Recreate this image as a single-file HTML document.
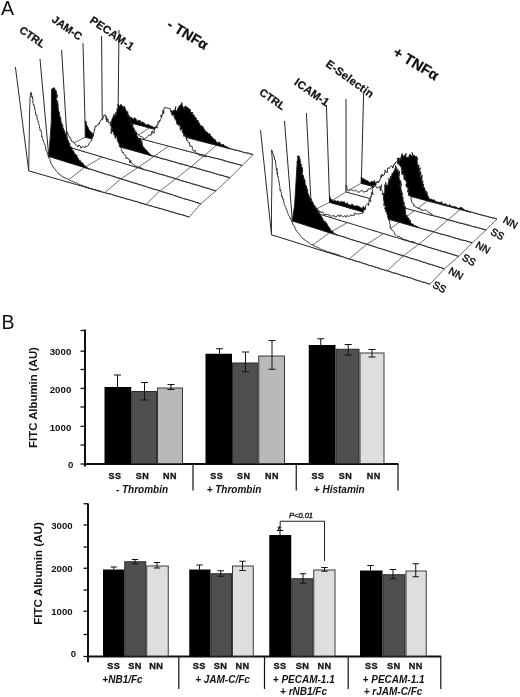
<!DOCTYPE html>
<html><head><meta charset="utf-8"><title>Figure</title>
<style>
html,body{margin:0;padding:0;background:#fff;}
body{width:520px;height:697px;overflow:hidden;}
svg{display:block;filter:blur(0.35px);}
svg text{font-family:"Liberation Sans",Arial,sans-serif;}
</style></head><body>
<svg width="520" height="697" viewBox="0 0 520 697">
<rect x="0" y="0" width="520" height="697" fill="#fff"/>
<text x="1.0" y="15.3" font-size="19.5" font-weight="normal" font-style="normal" text-anchor="start" fill="#111" >A</text>
<text x="1.6" y="329" font-size="19.5" font-weight="normal" font-style="normal" text-anchor="start" fill="#111" >B</text>
<line x1="85" y1="329.5" x2="85" y2="466.5" stroke="#111" stroke-width="2" />
<line x1="80.5" y1="330.5" x2="85" y2="330.5" stroke="#111" stroke-width="1.3" />
<line x1="80.5" y1="351.2" x2="85" y2="351.2" stroke="#111" stroke-width="1.3" />
<line x1="80.5" y1="369.5" x2="85" y2="369.5" stroke="#111" stroke-width="1.3" />
<line x1="80.5" y1="388.4" x2="85" y2="388.4" stroke="#111" stroke-width="1.3" />
<line x1="80.5" y1="407" x2="85" y2="407" stroke="#111" stroke-width="1.3" />
<line x1="80.5" y1="426.3" x2="85" y2="426.3" stroke="#111" stroke-width="1.3" />
<line x1="80.5" y1="445" x2="85" y2="445" stroke="#111" stroke-width="1.3" />
<line x1="80.5" y1="464" x2="85" y2="464" stroke="#111" stroke-width="1.3" />
<text x="71.3" y="355.35" font-size="9.7" font-weight="bold" font-style="normal" text-anchor="end" fill="#111" >3000</text>
<text x="71.3" y="392.6" font-size="9.7" font-weight="bold" font-style="normal" text-anchor="end" fill="#111" >2000</text>
<text x="71.3" y="430.6" font-size="9.7" font-weight="bold" font-style="normal" text-anchor="end" fill="#111" >1000</text>
<text x="73.3" y="468.40000000000003" font-size="9.7" font-weight="bold" font-style="normal" text-anchor="end" fill="#111" >0</text>
<text x="37.2" y="397.5" font-size="11.4" font-weight="bold" font-style="normal" text-anchor="middle" fill="#111" transform="rotate(-90 37.2 397.5)" >FITC Albumin (AU)</text>
<line x1="85" y1="464" x2="398.5" y2="464" stroke="#111" stroke-width="2" />
<line x1="193" y1="464" x2="193" y2="490.5" stroke="#111" stroke-width="1.2" />
<line x1="296.25" y1="464" x2="296.25" y2="490.5" stroke="#111" stroke-width="1.2" />
<line x1="398" y1="464" x2="398" y2="490.5" stroke="#111" stroke-width="1.2" />
<rect x="104.50" y="387.00" width="26.70" height="77.00" fill="#000"/>
<rect x="131.70" y="391.50" width="24.80" height="72.00" fill="#4f4f4f" stroke="#2a2a2a" stroke-width="1"/>
<rect x="157.50" y="388.00" width="25.00" height="75.50" fill="#b9b9b9" stroke="#3a3a3a" stroke-width="1"/>
<line x1="117.5" y1="375" x2="117.5" y2="387" stroke="#111" stroke-width="1" />
<line x1="114.0" y1="375" x2="121.0" y2="375" stroke="#111" stroke-width="1" />
<line x1="144.5" y1="382.5" x2="144.5" y2="400" stroke="#111" stroke-width="1" />
<line x1="141.0" y1="382.5" x2="148.0" y2="382.5" stroke="#111" stroke-width="1" />
<line x1="141.0" y1="400" x2="148.0" y2="400" stroke="#111" stroke-width="1" />
<line x1="171" y1="384.5" x2="171" y2="389.5" stroke="#111" stroke-width="1" />
<line x1="167.5" y1="384.5" x2="174.5" y2="384.5" stroke="#111" stroke-width="1" />
<line x1="167.5" y1="389.5" x2="174.5" y2="389.5" stroke="#111" stroke-width="1" />
<rect x="205.50" y="353.75" width="26.50" height="110.25" fill="#000"/>
<rect x="232.50" y="363.00" width="25.25" height="100.50" fill="#4f4f4f" stroke="#2a2a2a" stroke-width="1"/>
<rect x="258.75" y="356.00" width="25.75" height="107.50" fill="#b9b9b9" stroke="#3a3a3a" stroke-width="1"/>
<line x1="219.5" y1="348.75" x2="219.5" y2="353.75" stroke="#111" stroke-width="1" />
<line x1="216.0" y1="348.75" x2="223.0" y2="348.75" stroke="#111" stroke-width="1" />
<line x1="245.5" y1="352" x2="245.5" y2="371.75" stroke="#111" stroke-width="1" />
<line x1="242.0" y1="352" x2="249.0" y2="352" stroke="#111" stroke-width="1" />
<line x1="242.0" y1="371.75" x2="249.0" y2="371.75" stroke="#111" stroke-width="1" />
<line x1="272" y1="340.5" x2="272" y2="369.25" stroke="#111" stroke-width="1" />
<line x1="268.5" y1="340.5" x2="275.5" y2="340.5" stroke="#111" stroke-width="1" />
<line x1="268.5" y1="369.25" x2="275.5" y2="369.25" stroke="#111" stroke-width="1" />
<rect x="308.75" y="345.00" width="26.75" height="119.00" fill="#000"/>
<rect x="336.00" y="349.25" width="23.00" height="114.25" fill="#4f4f4f" stroke="#2a2a2a" stroke-width="1"/>
<rect x="360.00" y="353.00" width="24.00" height="110.50" fill="#dedede" stroke="#3a3a3a" stroke-width="1"/>
<line x1="320.75" y1="338.75" x2="320.75" y2="345" stroke="#111" stroke-width="1" />
<line x1="317.25" y1="338.75" x2="324.25" y2="338.75" stroke="#111" stroke-width="1" />
<line x1="348.25" y1="344.5" x2="348.25" y2="355" stroke="#111" stroke-width="1" />
<line x1="344.75" y1="344.5" x2="351.75" y2="344.5" stroke="#111" stroke-width="1" />
<line x1="344.75" y1="355" x2="351.75" y2="355" stroke="#111" stroke-width="1" />
<line x1="372" y1="349.5" x2="372" y2="357" stroke="#111" stroke-width="1" />
<line x1="368.5" y1="349.5" x2="375.5" y2="349.5" stroke="#111" stroke-width="1" />
<line x1="368.5" y1="357" x2="375.5" y2="357" stroke="#111" stroke-width="1" />
<text x="115" y="479" font-size="9" font-weight="bold" font-style="normal" text-anchor="middle" fill="#111" letter-spacing="0.4" stroke="#111" stroke-width="0.3">SS</text>
<text x="142.5" y="479" font-size="9" font-weight="bold" font-style="normal" text-anchor="middle" fill="#111" letter-spacing="0.4" stroke="#111" stroke-width="0.3">SN</text>
<text x="170" y="479" font-size="9" font-weight="bold" font-style="normal" text-anchor="middle" fill="#111" letter-spacing="0.4" stroke="#111" stroke-width="0.3">NN</text>
<text x="216.75" y="479" font-size="9" font-weight="bold" font-style="normal" text-anchor="middle" fill="#111" letter-spacing="0.4" stroke="#111" stroke-width="0.3">SS</text>
<text x="243.75" y="479" font-size="9" font-weight="bold" font-style="normal" text-anchor="middle" fill="#111" letter-spacing="0.4" stroke="#111" stroke-width="0.3">SN</text>
<text x="272" y="479" font-size="9" font-weight="bold" font-style="normal" text-anchor="middle" fill="#111" letter-spacing="0.4" stroke="#111" stroke-width="0.3">NN</text>
<text x="318" y="479" font-size="9" font-weight="bold" font-style="normal" text-anchor="middle" fill="#111" letter-spacing="0.4" stroke="#111" stroke-width="0.3">SS</text>
<text x="345.5" y="479" font-size="9" font-weight="bold" font-style="normal" text-anchor="middle" fill="#111" letter-spacing="0.4" stroke="#111" stroke-width="0.3">SN</text>
<text x="373.75" y="479" font-size="9" font-weight="bold" font-style="normal" text-anchor="middle" fill="#111" letter-spacing="0.4" stroke="#111" stroke-width="0.3">NN</text>
<text x="142" y="492.5" font-size="10" font-weight="bold" font-style="italic" text-anchor="middle" fill="#111" >- Thrombin</text>
<text x="234" y="492.5" font-size="10" font-weight="bold" font-style="italic" text-anchor="middle" fill="#111" >+ Thrombin</text>
<text x="339.3" y="492.5" font-size="10" font-weight="bold" font-style="italic" text-anchor="middle" fill="#111" >+ Histamin</text>
<line x1="88" y1="503.5" x2="88" y2="662.3" stroke="#111" stroke-width="2" />
<line x1="83.5" y1="503.75" x2="88" y2="503.75" stroke="#111" stroke-width="1.3" />
<line x1="83.5" y1="525" x2="88" y2="525" stroke="#111" stroke-width="1.3" />
<line x1="83.5" y1="547" x2="88" y2="547" stroke="#111" stroke-width="1.3" />
<line x1="83.5" y1="568.25" x2="88" y2="568.25" stroke="#111" stroke-width="1.3" />
<line x1="83.5" y1="590" x2="88" y2="590" stroke="#111" stroke-width="1.3" />
<line x1="83.5" y1="611.25" x2="88" y2="611.25" stroke="#111" stroke-width="1.3" />
<line x1="83.5" y1="634.5" x2="88" y2="634.5" stroke="#111" stroke-width="1.3" />
<line x1="83.5" y1="656.5" x2="88" y2="656.5" stroke="#111" stroke-width="1.3" />
<text x="72.6" y="529.0" font-size="9.6" font-weight="bold" font-style="normal" text-anchor="end" fill="#111" >3000</text>
<text x="72.6" y="572.25" font-size="9.6" font-weight="bold" font-style="normal" text-anchor="end" fill="#111" >2000</text>
<text x="72.6" y="615.25" font-size="9.6" font-weight="bold" font-style="normal" text-anchor="end" fill="#111" >1000</text>
<text x="76.1" y="657.3" font-size="9.6" font-weight="bold" font-style="normal" text-anchor="end" fill="#111" >0</text>
<text x="41.7" y="573.5" font-size="11.6" font-weight="bold" font-style="normal" text-anchor="middle" fill="#111" transform="rotate(-90 41.7 573.5)" >FITC Albumin (AU)</text>
<line x1="88" y1="656.5" x2="441.2" y2="656.5" stroke="#111" stroke-width="2" />
<line x1="178.8" y1="656.5" x2="178.8" y2="689" stroke="#111" stroke-width="1.2" />
<line x1="264.5" y1="656.5" x2="264.5" y2="689" stroke="#111" stroke-width="1.2" />
<line x1="348.2" y1="656.5" x2="348.2" y2="689" stroke="#111" stroke-width="1.2" />
<line x1="440.8" y1="656.5" x2="440.8" y2="689" stroke="#111" stroke-width="1.2" />
<rect x="103.00" y="569.50" width="21.25" height="87.00" fill="#000"/>
<rect x="124.75" y="561.75" width="21.00" height="94.25" fill="#4f4f4f" stroke="#2a2a2a" stroke-width="1"/>
<rect x="146.75" y="566.00" width="21.50" height="90.00" fill="#dedede" stroke="#3a3a3a" stroke-width="1"/>
<line x1="113.75" y1="567" x2="113.75" y2="569.5" stroke="#111" stroke-width="1" />
<line x1="110.55" y1="567" x2="116.95" y2="567" stroke="#111" stroke-width="1" />
<line x1="135" y1="559.5" x2="135" y2="563.75" stroke="#111" stroke-width="1" />
<line x1="131.8" y1="559.5" x2="138.2" y2="559.5" stroke="#111" stroke-width="1" />
<line x1="131.8" y1="563.75" x2="138.2" y2="563.75" stroke="#111" stroke-width="1" />
<line x1="157" y1="562.5" x2="157" y2="568" stroke="#111" stroke-width="1" />
<line x1="153.8" y1="562.5" x2="160.2" y2="562.5" stroke="#111" stroke-width="1" />
<line x1="153.8" y1="568" x2="160.2" y2="568" stroke="#111" stroke-width="1" />
<rect x="189.25" y="569.50" width="21.25" height="87.00" fill="#000"/>
<rect x="211.00" y="573.75" width="20.50" height="82.25" fill="#4f4f4f" stroke="#2a2a2a" stroke-width="1"/>
<rect x="232.50" y="566.00" width="20.75" height="90.00" fill="#dedede" stroke="#3a3a3a" stroke-width="1"/>
<line x1="199.5" y1="565" x2="199.5" y2="569.5" stroke="#111" stroke-width="1" />
<line x1="196.3" y1="565" x2="202.7" y2="565" stroke="#111" stroke-width="1" />
<line x1="220.75" y1="570.75" x2="220.75" y2="576.25" stroke="#111" stroke-width="1" />
<line x1="217.55" y1="570.75" x2="223.95" y2="570.75" stroke="#111" stroke-width="1" />
<line x1="217.55" y1="576.25" x2="223.95" y2="576.25" stroke="#111" stroke-width="1" />
<line x1="242.5" y1="561.25" x2="242.5" y2="570.5" stroke="#111" stroke-width="1" />
<line x1="239.3" y1="561.25" x2="245.7" y2="561.25" stroke="#111" stroke-width="1" />
<line x1="239.3" y1="570.5" x2="245.7" y2="570.5" stroke="#111" stroke-width="1" />
<rect x="269.25" y="535.00" width="22.00" height="121.50" fill="#000"/>
<rect x="291.75" y="578.75" width="21.00" height="77.25" fill="#4f4f4f" stroke="#2a2a2a" stroke-width="1"/>
<rect x="313.75" y="570.00" width="21.25" height="86.00" fill="#dedede" stroke="#3a3a3a" stroke-width="1"/>
<line x1="280" y1="530.5" x2="280" y2="535" stroke="#111" stroke-width="1" />
<line x1="276.8" y1="530.5" x2="283.2" y2="530.5" stroke="#111" stroke-width="1" />
<line x1="303" y1="573.75" x2="303" y2="583.25" stroke="#111" stroke-width="1" />
<line x1="299.8" y1="573.75" x2="306.2" y2="573.75" stroke="#111" stroke-width="1" />
<line x1="299.8" y1="583.25" x2="306.2" y2="583.25" stroke="#111" stroke-width="1" />
<line x1="324.5" y1="567.5" x2="324.5" y2="571.25" stroke="#111" stroke-width="1" />
<line x1="321.3" y1="567.5" x2="327.7" y2="567.5" stroke="#111" stroke-width="1" />
<line x1="321.3" y1="571.25" x2="327.7" y2="571.25" stroke="#111" stroke-width="1" />
<rect x="360.00" y="570.50" width="22.50" height="86.00" fill="#000"/>
<rect x="383.00" y="574.75" width="22.00" height="81.25" fill="#4f4f4f" stroke="#2a2a2a" stroke-width="1"/>
<rect x="406.00" y="571.00" width="20.25" height="85.00" fill="#dedede" stroke="#3a3a3a" stroke-width="1"/>
<line x1="370.5" y1="565.5" x2="370.5" y2="570.5" stroke="#111" stroke-width="1" />
<line x1="367.3" y1="565.5" x2="373.7" y2="565.5" stroke="#111" stroke-width="1" />
<line x1="393" y1="569.5" x2="393" y2="578.75" stroke="#111" stroke-width="1" />
<line x1="389.8" y1="569.5" x2="396.2" y2="569.5" stroke="#111" stroke-width="1" />
<line x1="389.8" y1="578.75" x2="396.2" y2="578.75" stroke="#111" stroke-width="1" />
<line x1="415.75" y1="563.75" x2="415.75" y2="576.75" stroke="#111" stroke-width="1" />
<line x1="412.55" y1="563.75" x2="418.95" y2="563.75" stroke="#111" stroke-width="1" />
<line x1="412.55" y1="576.75" x2="418.95" y2="576.75" stroke="#111" stroke-width="1" />
<text x="113.75" y="669" font-size="9.2" font-weight="bold" font-style="normal" text-anchor="middle" fill="#111" letter-spacing="0.4" stroke="#111" stroke-width="0.3">SS</text>
<text x="135" y="669" font-size="9.2" font-weight="bold" font-style="normal" text-anchor="middle" fill="#111" letter-spacing="0.4" stroke="#111" stroke-width="0.3">SN</text>
<text x="156.25" y="669" font-size="9.2" font-weight="bold" font-style="normal" text-anchor="middle" fill="#111" letter-spacing="0.4" stroke="#111" stroke-width="0.3">NN</text>
<text x="199.25" y="669" font-size="9.2" font-weight="bold" font-style="normal" text-anchor="middle" fill="#111" letter-spacing="0.4" stroke="#111" stroke-width="0.3">SS</text>
<text x="220.5" y="669" font-size="9.2" font-weight="bold" font-style="normal" text-anchor="middle" fill="#111" letter-spacing="0.4" stroke="#111" stroke-width="0.3">SN</text>
<text x="242.5" y="669" font-size="9.2" font-weight="bold" font-style="normal" text-anchor="middle" fill="#111" letter-spacing="0.4" stroke="#111" stroke-width="0.3">NN</text>
<text x="280" y="669" font-size="9.2" font-weight="bold" font-style="normal" text-anchor="middle" fill="#111" letter-spacing="0.4" stroke="#111" stroke-width="0.3">SS</text>
<text x="302.5" y="669" font-size="9.2" font-weight="bold" font-style="normal" text-anchor="middle" fill="#111" letter-spacing="0.4" stroke="#111" stroke-width="0.3">SN</text>
<text x="324.5" y="669" font-size="9.2" font-weight="bold" font-style="normal" text-anchor="middle" fill="#111" letter-spacing="0.4" stroke="#111" stroke-width="0.3">NN</text>
<text x="371.5" y="669" font-size="9.2" font-weight="bold" font-style="normal" text-anchor="middle" fill="#111" letter-spacing="0.4" stroke="#111" stroke-width="0.3">SS</text>
<text x="393.75" y="669" font-size="9.2" font-weight="bold" font-style="normal" text-anchor="middle" fill="#111" letter-spacing="0.4" stroke="#111" stroke-width="0.3">SN</text>
<text x="415.75" y="669" font-size="9.2" font-weight="bold" font-style="normal" text-anchor="middle" fill="#111" letter-spacing="0.4" stroke="#111" stroke-width="0.3">NN</text>
<text x="122.5" y="683" font-size="10" font-weight="bold" font-style="italic" text-anchor="middle" fill="#111" >+NB1/Fc</text>
<text x="222.5" y="683" font-size="10" font-weight="bold" font-style="italic" text-anchor="middle" fill="#111" >+ JAM-C/Fc</text>
<text x="303.8" y="683.3" font-size="10" font-weight="bold" font-style="italic" text-anchor="middle" fill="#111" >+ PECAM-1.1</text>
<text x="303.5" y="695" font-size="10" font-weight="bold" font-style="italic" text-anchor="middle" fill="#111" >+ rNB1/Fc</text>
<text x="393.6" y="683.3" font-size="10" font-weight="bold" font-style="italic" text-anchor="middle" fill="#111" >+ PECAM-1.1</text>
<text x="393" y="695" font-size="10" font-weight="bold" font-style="italic" text-anchor="middle" fill="#111" >+ rJAM-C/Fc</text>
<polyline points="280.2,527 280.2,521.25 324.5,521.25 324.5,561" fill="none" stroke="#222" stroke-width="1"/>
<text x="301" y="518" font-size="7.5" font-weight="normal" font-style="italic" text-anchor="middle" fill="#111" stroke="#111" stroke-width="0.35">P&lt;0.01</text>
<text x="279.3" y="533.8" font-size="11" font-weight="bold" font-style="normal" text-anchor="middle" fill="#111" >*</text>
<polyline points="28.7,170.6 32.6,171.8 36.6,172.8 40.4,174.0 44.3,175.1 48.3,176.4 52.1,177.3 56.0,178.7 60.1,179.4 64.0,181.1 67.9,182.0 71.7,182.8 75.7,183.9 79.5,185.2 83.4,186.4 87.4,187.8 91.3,188.8 95.2,189.9 99.2,190.8 103.2,192.4 107.1,193.4 110.9,194.2 114.8,195.2 118.8,196.6 122.7,197.7 126.7,199.1 130.4,199.9 134.5,201.1 138.4,202.2 142.1,203.5 146.2,204.4 150.0,205.6 154.1,207.0 157.8,207.8 161.7,208.8 165.8,210.0 169.6,211.3 173.5,212.6 177.4,213.7 181.3,214.7 185.2,215.7 189.2,217.0" fill="none" stroke="#555" stroke-width="0.85" stroke-linejoin="round"/>
<polyline points="48.8,156.2 52.8,157.6 56.6,158.9 60.4,159.8 64.5,161.2 68.2,162.6 72.1,163.4 76.1,164.6 79.9,165.7 83.8,167.2 87.7,168.5 91.6,169.6 95.7,170.8 99.5,172.3 103.3,173.1 107.3,174.7 111.1,175.5 115.1,177.2 118.9,178.4 122.9,179.5 126.7,180.4 130.5,182.1 134.5,183.2 138.4,184.5 142.4,185.4 146.2,186.8 150.0,187.8 154.0,189.4 158.0,190.2 161.9,191.4 165.6,192.7 169.6,193.8 173.4,195.2 177.4,196.3 181.3,197.9 185.3,199.0 189.1,200.2 192.9,201.1 196.8,202.8 200.8,203.8" fill="none" stroke="#555" stroke-width="0.85" stroke-linejoin="round"/>
<polyline points="67.5,146.5 71.5,147.9 75.2,148.9 79.2,150.1 83.1,151.5 87.0,152.4 91.0,153.7 94.9,154.8 98.8,156.1 102.6,157.1 106.7,158.4 110.5,159.5 114.5,160.5 118.3,161.6 122.2,162.9 126.0,164.1 130.1,165.4 134.0,166.3 137.9,167.5 141.7,168.9 145.6,170.0 149.5,171.0 153.5,172.0 157.4,173.3 161.3,174.7 165.1,175.4 169.1,176.9 173.0,177.8 177.0,179.2 180.8,180.5 184.7,181.6 188.6,182.6 192.6,184.1 196.5,184.9 200.4,186.0 204.2,187.3 208.3,188.7 212.1,189.9 216.0,190.8" fill="none" stroke="#555" stroke-width="0.85" stroke-linejoin="round"/>
<polyline points="85.4,137.0 89.3,137.9 93.2,139.1 97.1,140.2 101.1,141.4 104.9,142.7 108.9,143.6 112.7,144.4 116.7,145.5 120.6,146.9 124.4,148.2 128.3,148.9 132.3,149.9 136.3,151.1 140.0,152.1 144.0,153.5 148.0,154.7 151.9,156.0 155.8,156.6 159.6,157.7 163.5,159.0 167.5,159.9 171.3,161.1 175.3,162.3 179.2,163.6 183.1,164.7 187.1,165.4 191.0,166.8 194.7,167.8 198.8,169.1 202.6,170.0 206.6,171.3 210.6,172.2 214.4,173.1 218.3,174.6 222.2,175.6 226.0,176.8 230.0,177.7" fill="none" stroke="#555" stroke-width="0.85" stroke-linejoin="round"/>
<polyline points="102.3,128.5 106.3,129.8 110.1,130.7 113.9,131.8 117.9,132.5 121.7,133.6 125.6,134.8 129.5,135.4 133.5,136.4 137.4,137.5 141.2,138.9 145.0,139.6 149.0,140.9 152.9,141.9 156.8,142.8 160.7,143.6 164.5,144.9 168.4,146.1 172.3,147.0 176.3,148.0 180.0,148.9 184.0,150.3 187.8,151.3 191.8,152.1 195.6,152.9 199.5,154.1 203.4,154.9 207.4,156.2 211.2,157.4 215.1,158.2 219.0,159.0 222.9,160.2 226.8,161.6 230.6,162.3 234.4,163.3 238.5,164.6 242.3,165.4" fill="none" stroke="#555" stroke-width="0.85" stroke-linejoin="round"/>
<polyline points="118.0,119.5 122.0,120.4 125.9,121.6 130.0,122.4 133.9,123.3 137.8,124.5 141.9,125.6 145.8,126.8 149.7,127.9 153.7,128.8 157.7,129.6 161.7,130.8 165.6,131.8 169.6,132.7 173.5,134.0 177.6,135.0 181.6,136.1 185.6,136.9 189.5,138.3 193.5,139.0 197.4,140.4 201.3,141.5 205.4,142.0 209.3,143.4 213.2,144.0 217.3,145.3 221.3,146.1 225.2,147.5 229.1,148.2 233.2,149.7 237.2,150.2 241.1,151.7 245.1,152.6 249.0,153.3 253.0,154.6" fill="none" stroke="#555" stroke-width="0.85" stroke-linejoin="round"/>
<polyline points="28.7,170.6 48.8,156.2 67.5,146.5 85.4,137.0 102.3,128.5 118.0,119.5" fill="none" stroke="#555" stroke-width="0.85" stroke-linejoin="round"/>
<polyline points="189.2,217.0 200.8,203.8 216.0,190.8 230.0,177.7 242.3,165.4 253.0,154.6" fill="none" stroke="#555" stroke-width="0.85" stroke-linejoin="round"/>
<polyline points="66.4,181.5 84.5,167.4 102.4,156.9 119.4,146.6 135.2,137.2 149.7,127.7" fill="none" stroke="#555" stroke-width="0.85" stroke-linejoin="round"/>
<polyline points="104.9,192.6 121.0,178.8 138.0,167.5 154.1,156.3 168.8,146.0 182.1,136.2" fill="none" stroke="#555" stroke-width="0.85" stroke-linejoin="round"/>
<polyline points="145.9,204.5 159.8,190.9 175.9,178.8 191.0,166.7 204.5,155.4 216.6,145.1" fill="none" stroke="#555" stroke-width="0.85" stroke-linejoin="round"/>
<polyline points="119.0,30.0 118.0,119.5" fill="none" stroke="#1c1c1c" stroke-width="0.95" stroke-linejoin="round"/>
<polygon points="118.0,119.5 118.0,104.0 119.1,105.8 119.7,106.7 119.9,106.9 120.6,108.2 122.4,111.2 122.1,107.6 123.4,113.6 124.7,113.0 125.3,112.4 126.2,114.7 127.5,114.3 128.7,115.1 129.5,116.3 130.2,117.4 131.4,117.2 131.9,118.1 133.5,119.3 134.6,117.6 135.2,118.4 136.0,118.9 136.8,121.5 138.4,120.3 139.3,121.0 139.9,120.2 141.2,123.2 142.3,121.6 143.3,123.1 143.8,122.8 144.9,123.6 146.3,125.1 147.3,124.4 148.9,124.8 149.9,125.7 151.0,126.0 152.5,126.4 153.5,127.3 155.0,127.6 155.7,126.5 157.3,126.4 158.4,125.7 159.4,126.3 160.1,125.3 161.3,124.2 162.0,125.5 163.3,123.8 163.7,121.5 164.2,121.0 165.0,119.5 164.8,121.6 165.9,118.9 166.7,117.9 166.6,117.7 168.0,116.8 168.9,114.2 169.7,113.1 170.5,113.9 171.0,111.9 171.5,113.7 172.9,110.6 175.0,110.1 175.8,106.5 175.4,110.3 176.4,111.3 178.9,106.8 180.1,105.1 179.9,107.0 181.8,102.5 182.3,105.6 184.3,109.6 184.3,106.7 185.4,106.2 186.2,106.7 187.9,107.6 189.3,109.3 190.2,109.3 190.5,111.9 192.2,113.0 192.8,112.1 192.0,114.7 194.0,114.7 193.8,117.2 194.4,115.9 195.6,117.9 196.4,118.0 196.4,120.5 198.3,120.5 197.5,124.5 198.3,121.8 199.9,123.9 199.9,126.2 200.6,125.4 202.3,126.6 202.5,125.9 203.3,127.7 204.3,129.3 205.1,130.8 205.7,131.0 206.2,131.5 206.7,132.2 207.3,132.2 208.6,134.1 209.8,133.7 210.3,134.8 211.3,137.2 211.1,136.1 212.8,138.0 213.3,138.7 214.0,139.3 215.2,139.5 215.3,139.9 216.2,141.5 217.3,143.0 218.3,142.3 219.2,142.0 220.4,143.0 221.1,145.0 222.7,144.5 223.6,144.4 224.7,146.4 225.6,146.1 227.0,146.7 228.0,147.9 229.2,148.1 230.0,148.5 230.0,148.8 118.0,119.7" fill="#000" stroke="#1c1c1c" stroke-width="0.9" stroke-linejoin="round"/>
<polyline points="230.0,148.6 231.5,149.0 233.0,149.2 234.6,150.0 236.1,150.4 237.7,150.4 239.3,151.2 240.7,151.1 242.3,151.8 243.8,152.5 245.4,152.8 246.8,153.0 248.5,153.2 249.8,153.9 251.6,154.0 253.0,154.6" fill="none" stroke="#1c1c1c" stroke-width="0.9" stroke-linejoin="round"/>
<polyline points="101.6,36.0 102.3,128.5" fill="none" stroke="#1c1c1c" stroke-width="0.95" stroke-linejoin="round"/>
<polygon points="102.3,128.5 102.4,121.0 103.2,122.6 104.5,124.1 105.1,124.8 106.5,124.3 107.8,125.8 109.0,123.9 109.7,125.2 110.7,123.7 111.7,125.0 112.8,125.9 113.7,124.7 114.9,126.2 115.9,123.9 116.5,126.6 117.7,125.0 118.4,125.6 119.1,124.3 120.4,125.1 121.1,122.1 122.3,125.4 124.2,126.1 124.2,125.8 125.9,125.2 126.3,124.9 128.0,124.0 128.7,122.5 130.0,123.2 131.3,125.3 133.0,126.3 132.6,126.0 133.0,127.2 133.4,129.3 134.3,131.2 134.6,131.5 136.1,131.4 136.7,134.0 138.0,133.9 138.1,134.7 139.9,136.0 140.5,136.8 141.4,136.4 142.5,137.1 143.9,139.4 145.9,138.1 147.3,137.1 147.7,136.5 148.8,135.0 150.6,135.1 151.1,135.3 151.6,131.9 152.8,130.7 152.8,133.3 154.5,132.8 154.2,131.6 154.9,127.7 155.7,128.3 156.2,126.8 157.3,127.9 156.9,124.8 158.4,124.6 157.6,121.9 158.8,122.6 159.3,120.3 159.4,121.6 159.8,121.5 160.6,119.3 161.4,117.9 160.7,114.9 161.7,117.2 163.1,110.2 163.3,113.9 164.0,113.4 163.6,110.8 164.3,107.6 167.8,108.0 168.6,109.1 169.5,108.2 170.3,108.6 171.0,112.4 171.4,110.4 171.9,115.2 173.8,114.6 173.6,114.4 174.6,116.7 173.7,116.5 175.3,119.3 175.9,120.3 176.6,121.4 176.7,123.1 176.5,123.6 176.9,124.2 178.9,124.2 178.6,125.9 179.7,124.5 180.3,127.4 180.2,127.6 180.2,130.2 182.3,128.7 182.5,132.5 181.9,131.4 182.9,131.8 183.2,133.2 184.1,136.6 185.3,134.0 185.6,136.8 186.5,138.9 186.5,140.2 186.5,138.7 187.9,141.5 188.6,142.7 189.4,142.4 189.7,144.1 189.8,146.4 190.8,145.7 191.6,146.3 191.9,146.1 192.7,149.6 193.0,150.5 194.4,151.3 194.9,150.1 195.6,151.7 196.7,154.1 197.7,153.1 198.8,154.9 200.3,155.5 201.6,155.8 202.4,156.4 203.3,156.2 204.4,156.5 206.0,157.0 206.0,156.0 102.3,128.7" fill="#fff" stroke="#1c1c1c" stroke-width="0.9" stroke-linejoin="round"/>
<polyline points="206.0,155.8 207.6,156.5 208.9,156.5 210.4,157.1 211.8,157.4 213.3,157.5 214.6,158.1 216.1,158.4 217.6,158.7 219.1,159.1 220.5,159.6 222.0,159.8 223.5,160.2 225.0,160.9 226.3,161.1 227.8,161.7 229.3,162.1 230.7,162.6 232.2,162.9 233.6,163.1 235.1,163.7 236.5,163.9 237.9,164.5 239.4,164.4 240.9,165.3 242.3,165.4" fill="none" stroke="#1c1c1c" stroke-width="0.9" stroke-linejoin="round"/>
<polyline points="83.0,43.0 85.4,137.0" fill="none" stroke="#1c1c1c" stroke-width="0.95" stroke-linejoin="round"/>
<polygon points="85.4,137.0 85.4,120.8 86.4,122.4 86.2,122.1 86.4,124.6 87.3,125.9 87.2,126.1 88.5,128.3 88.5,128.6 89.1,130.2 90.3,131.2 90.8,132.5 90.9,132.2 92.1,132.7 92.6,135.3 93.7,137.1 93.8,137.5 95.0,137.8 95.8,137.5 96.8,138.0 98.5,138.2 99.5,138.9 100.6,138.2 101.3,139.3 102.7,140.2 104.0,138.4 105.0,139.4 105.6,134.9 107.1,134.3 106.8,136.4 107.7,133.6 107.6,131.0 108.1,134.0 109.1,127.1 108.5,130.0 109.0,130.6 110.7,126.8 111.0,124.8 111.1,124.8 111.9,123.2 111.0,122.4 111.5,122.2 111.6,120.7 112.1,119.0 112.8,117.7 113.7,115.7 113.2,118.9 113.8,114.6 114.3,117.2 115.5,112.6 115.6,117.1 116.3,114.5 117.0,110.2 117.0,109.4 117.3,108.2 118.4,110.9 119.1,106.7 121.0,104.3 123.3,107.7 122.3,111.2 124.2,105.9 126.0,110.8 125.6,109.8 126.3,112.0 127.1,111.3 126.9,116.1 127.8,111.6 127.9,115.9 128.9,118.1 128.0,117.8 129.1,118.1 130.2,119.3 129.6,121.8 130.6,119.2 131.0,123.5 130.6,126.1 132.1,122.9 133.1,124.5 132.0,127.3 133.3,128.6 133.4,127.2 134.8,130.3 134.8,133.4 135.2,132.8 135.0,132.6 135.8,132.2 136.8,135.3 137.1,135.3 136.9,135.7 138.5,138.6 138.0,138.2 139.3,139.5 138.8,140.6 139.9,138.5 141.2,140.7 140.4,142.8 142.2,141.2 141.6,144.2 142.1,143.2 142.9,146.4 143.7,147.2 144.1,147.4 144.5,148.4 146.3,149.9 146.2,150.8 146.9,150.4 147.8,151.9 149.0,153.1 149.7,153.7 151.2,155.3 152.0,155.3 152.0,155.9 85.4,137.2" fill="#000" stroke="#1c1c1c" stroke-width="0.9" stroke-linejoin="round"/>
<polyline points="152.0,155.7 153.3,156.1 154.9,156.3 156.3,157.1 157.9,157.4 159.3,157.8 160.6,158.4 162.1,158.8 163.5,158.9 164.9,159.4 166.4,159.6 167.8,160.2 169.3,160.6 170.9,161.1 172.3,161.3 173.6,161.6 175.2,162.2 176.5,162.4 177.9,162.9 179.4,163.7 180.9,163.7 182.3,164.1 183.9,164.6 185.3,165.2 186.8,165.2 188.1,165.8 189.5,166.5 191.0,166.9 192.4,166.9 193.9,167.4 195.2,167.7 196.8,168.1 198.2,168.7 199.7,168.9 201.2,169.4 202.6,170.1 203.9,170.2 205.4,170.9 206.9,171.1 208.4,171.4 209.7,171.9 211.2,172.1 212.6,172.9 214.1,173.4 215.7,173.5 217.0,174.3 218.4,174.6 219.9,175.1 221.4,175.1 222.8,175.4 224.2,176.0 225.6,176.4 227.1,176.9 228.5,177.1 230.0,177.7" fill="none" stroke="#1c1c1c" stroke-width="0.9" stroke-linejoin="round"/>
<polyline points="61.6,50.0 67.5,146.5" fill="none" stroke="#1c1c1c" stroke-width="0.95" stroke-linejoin="round"/>
<polygon points="67.5,146.5 66.8,131.5 66.8,131.3 68.0,134.1 68.1,134.3 68.7,135.7 69.6,137.0 69.9,138.3 70.4,138.1 71.1,139.1 71.4,141.3 72.7,141.7 73.3,141.4 74.0,142.7 75.5,144.7 76.1,144.8 76.6,145.3 77.9,147.0 78.8,145.0 80.0,145.7 81.1,148.3 82.1,146.7 82.8,146.6 84.4,147.4 85.5,147.3 85.7,145.8 86.8,146.6 87.7,146.1 88.3,145.3 89.0,143.7 89.3,142.6 90.6,141.4 91.0,140.5 91.6,140.7 92.0,137.7 92.6,137.7 92.1,138.3 93.2,135.9 93.3,134.2 93.7,135.8 93.2,135.2 94.3,131.2 94.3,129.0 94.5,130.0 94.8,128.9 95.2,126.1 96.2,126.6 95.9,127.0 96.3,125.8 97.9,124.6 98.5,124.8 98.5,123.8 99.7,123.5 99.0,123.4 101.4,119.3 102.0,120.2 103.9,116.8 103.8,115.1 105.7,115.0 106.3,120.1 106.6,116.7 107.0,118.5 106.7,122.0 108.0,119.1 108.2,122.3 108.4,122.9 110.9,121.8 109.8,124.2 111.3,126.6 111.3,126.8 111.1,133.7 112.9,128.6 112.6,131.9 113.9,133.0 113.7,134.6 113.6,134.7 114.6,134.1 114.9,136.2 115.2,138.4 115.8,135.9 117.3,137.8 116.9,139.1 118.1,141.2 117.6,141.3 119.4,144.2 118.9,145.4 119.5,145.3 119.7,147.0 121.1,147.3 121.1,148.6 121.7,149.9 122.3,152.5 123.8,152.6 123.6,153.4 124.5,154.8 125.7,155.4 125.7,156.6 126.2,158.7 126.4,158.2 127.6,157.9 128.1,159.0 129.5,159.6 129.8,163.0 130.9,160.5 131.0,162.8 131.9,163.1 132.9,164.3 134.0,164.9 134.3,165.0 135.4,166.4 136.4,166.3 137.5,166.7 138.2,167.3 139.4,166.6 140.4,168.1 140.9,167.4 142.2,168.9 143.0,168.8 143.0,169.2 67.5,146.7" fill="#fff" stroke="#1c1c1c" stroke-width="0.9" stroke-linejoin="round"/>
<polyline points="143.0,169.0 144.4,169.7 145.8,169.9 147.3,170.3 148.8,170.9 150.4,171.1 151.8,171.5 153.2,172.3 154.6,172.3 156.1,173.1 157.5,173.5 159.1,173.9 160.5,174.0 161.9,174.6 163.4,174.8 164.9,175.5 166.3,176.0 167.9,176.2 169.4,176.8 170.8,177.1 172.3,177.7 173.8,178.0 175.1,178.7 176.5,178.9 178.1,179.7 179.5,179.7 180.9,180.6 182.3,180.9 183.9,181.3 185.3,181.7 186.9,182.3 188.3,182.5 189.7,182.7 191.3,183.5 192.6,183.9 194.1,184.2 195.5,184.8 197.0,185.1 198.4,185.6 199.9,186.1 201.4,186.7 202.8,186.9 204.4,187.5 205.7,187.9 207.3,188.1 208.8,188.4 210.3,189.1 211.6,189.7 213.1,190.2 214.6,190.5 216.0,190.8" fill="none" stroke="#1c1c1c" stroke-width="0.9" stroke-linejoin="round"/>
<polyline points="40.0,59.0 48.8,156.2" fill="none" stroke="#1c1c1c" stroke-width="0.95" stroke-linejoin="round"/>
<polygon points="48.8,156.2 50.0,140.0 51.3,121.5 51.5,90.0 51.7,89.0 52.7,88.8 53.4,87.8 54.5,87.9 55.5,91.2 55.5,90.8 56.2,90.7 56.6,94.0 56.3,94.4 57.0,94.9 57.0,98.1 57.1,94.3 56.3,97.1 56.2,98.7 56.8,100.5 56.6,102.7 56.8,100.5 57.6,101.5 58.2,105.9 57.4,108.7 58.1,108.1 57.7,109.0 58.5,107.5 58.3,109.7 58.4,111.1 59.1,111.5 59.4,112.5 59.6,114.5 59.5,115.9 60.4,116.9 60.2,118.0 60.9,118.2 60.8,120.2 60.6,120.5 61.0,120.6 61.3,123.5 62.1,124.8 62.0,123.7 62.9,126.3 62.4,125.8 63.2,129.0 63.2,128.4 64.3,131.7 64.7,130.4 64.5,131.0 65.0,132.9 64.9,132.7 65.7,134.3 66.7,136.3 66.7,136.6 66.7,139.3 67.7,138.6 67.5,140.2 68.4,140.3 68.8,142.4 68.5,142.2 69.8,143.5 69.8,145.8 70.6,146.6 71.3,146.9 71.9,147.8 72.1,150.3 72.6,150.4 73.4,150.6 74.0,152.2 74.9,154.8 75.1,153.7 76.1,155.3 77.0,155.1 77.2,157.4 78.1,158.0 78.5,158.8 79.2,160.9 80.2,160.3 80.4,161.2 81.4,161.9 82.1,162.9 82.9,163.1 83.8,164.8 84.2,165.2 85.4,166.0 85.9,167.2 86.9,167.0 87.6,167.7 89.0,169.2 89.0,169.0 48.8,156.4" fill="#000" stroke="#1c1c1c" stroke-width="0.9" stroke-linejoin="round"/>
<polyline points="89.0,168.8 90.5,169.1 91.9,169.5 93.3,169.9 94.6,170.6 96.1,171.2 97.5,171.4 98.9,171.8 100.5,172.4 101.9,173.0 103.3,173.5 104.7,174.0 106.2,174.1 107.7,174.8 109.2,175.0 110.4,175.3 112.0,176.1 113.4,176.2 114.8,176.6 116.2,177.2 117.8,177.9 119.2,177.9 120.5,178.4 121.9,178.9 123.5,179.5 124.8,180.1 126.3,180.7 127.7,180.9 129.2,181.3 130.5,181.9 131.9,182.2 133.4,182.7 134.8,183.1 136.3,183.3 137.8,183.8 139.2,184.5 140.6,184.8 141.9,185.3 143.4,185.8 144.8,186.4 146.3,186.4 147.7,187.5 149.1,187.7 150.7,188.0 152.1,188.5 153.5,189.1 155.0,189.3 156.4,189.9 157.9,190.1 159.1,190.6 160.6,191.4 162.1,191.9 163.5,192.0 165.0,192.3 166.5,193.2 167.8,193.4 169.3,194.1 170.7,194.1 172.2,194.6 173.6,195.3 175.1,195.8 176.3,196.4 177.9,196.7 179.2,197.2 180.7,197.6 182.3,198.2 183.5,198.6 185.0,199.0 186.4,199.3 187.9,199.5 189.3,200.3 190.7,200.4 192.3,201.2 193.6,201.3 195.0,201.9 196.6,202.5 198.0,202.7 199.3,203.4 200.8,203.8" fill="none" stroke="#1c1c1c" stroke-width="0.9" stroke-linejoin="round"/>
<polyline points="15.4,67.0 28.7,170.6" fill="none" stroke="#1c1c1c" stroke-width="0.95" stroke-linejoin="round"/>
<polygon points="28.7,170.6 29.2,140.0 29.6,110.0 30.2,96.0 30.8,92.3 31.4,92.7 31.4,95.7 31.2,96.8 32.1,95.8 32.7,98.1 32.3,97.4 33.0,99.9 32.6,102.2 33.3,103.1 33.1,103.7 33.6,105.4 33.9,104.8 34.3,106.1 34.6,108.2 34.7,108.1 35.2,110.6 35.0,110.8 35.6,111.8 35.5,114.2 35.9,115.2 36.5,115.4 36.6,114.8 37.2,117.2 37.0,118.5 37.0,118.3 37.4,119.9 38.2,120.6 38.2,123.2 38.5,123.4 39.1,124.0 39.2,125.6 39.5,126.4 39.3,127.0 40.0,128.6 39.8,130.3 40.8,130.5 41.1,130.5 41.4,132.2 41.5,132.9 41.8,134.1 41.7,136.8 42.2,136.5 42.2,137.6 42.4,138.4 43.0,140.0 43.1,140.5 43.6,142.1 44.2,142.9 44.6,143.4 44.8,144.1 45.0,145.3 45.5,146.1 45.5,146.8 45.9,150.4 46.6,150.6 46.7,151.3 47.3,153.0 47.6,154.0 47.8,154.3 48.0,155.7 48.9,157.9 49.3,157.6 49.2,158.6 50.1,159.6 50.1,160.8 50.6,162.1 50.8,162.9 51.9,164.7 52.2,165.2 52.6,166.7 53.2,166.7 54.1,168.1 54.8,169.4 55.8,170.1 56.6,171.4 57.5,172.2 58.3,173.1 58.8,174.2 59.7,174.4 60.7,174.9 61.6,176.2 62.5,177.1 63.5,176.8 64.3,178.0 65.2,178.1 66.2,178.2 66.8,178.7 67.7,178.7 68.6,179.8 69.6,180.8 70.6,180.3 71.8,181.4 72.8,181.3 73.6,182.1 74.6,182.1 75.8,183.1 76.6,182.6 77.4,183.5 78.6,184.2 79.4,184.4 80.3,185.0 81.2,185.0 82.3,185.3 83.2,185.9 84.3,186.3 85.3,186.6 86.4,186.8 87.4,187.3 88.5,187.9 89.5,188.1 90.5,188.5 91.6,188.6 92.5,188.7 93.5,189.5 94.4,189.7 95.5,189.4 96.5,190.4 97.6,190.9 98.8,190.6 100.0,191.2 100.0,191.4 28.7,170.8" fill="#fff" stroke="#1c1c1c" stroke-width="0.9" stroke-linejoin="round"/>
<polyline points="100.0,191.2 101.5,191.8 102.9,192.2 104.4,192.4 105.9,193.0 107.3,193.5 108.7,193.7 110.2,193.9 111.8,194.4 113.1,195.2 114.7,195.7 116.1,196.1 117.5,196.4 119.1,196.5 120.4,197.2 122.0,197.7 123.5,197.9 124.8,198.2 126.3,199.1 127.7,199.1 129.2,199.4 130.7,199.9 132.1,200.5 133.6,201.0 135.2,201.4 136.7,201.5 138.0,201.9 139.4,202.8 141.0,203.1 142.3,203.4 143.9,203.8 145.4,204.6 146.8,204.8 148.3,205.1 149.7,205.9 151.3,205.7 152.7,206.4 154.0,206.7 155.5,207.4 157.0,207.4 158.4,208.3 160.0,208.6 161.4,208.8 162.8,209.3 164.2,209.7 165.8,210.2 167.3,210.7 168.7,211.0 170.3,211.6 171.6,212.0 173.1,212.2 174.7,212.6 176.1,213.4 177.6,213.4 179.0,214.3 180.4,214.3 181.9,214.7 183.4,215.1 184.9,215.6 186.2,216.3 187.7,216.6 189.2,217.0" fill="none" stroke="#1c1c1c" stroke-width="0.9" stroke-linejoin="round"/>
<polyline points="271.5,234.6 275.4,236.1 279.2,236.9 283.0,238.2 286.9,239.5 290.9,240.6 294.6,241.9 298.6,243.2 302.5,244.1 306.3,245.2 310.2,246.5 314.1,248.1 317.8,249.4 321.8,250.3 325.6,251.8 329.5,252.7 333.3,254.2 337.2,255.1 341.0,256.2 345.0,257.8 348.9,259.0 352.7,260.2 356.6,261.4 360.5,262.2 364.3,263.5 368.1,265.1 371.9,266.1 375.8,267.4 379.8,268.7 383.7,269.8 387.4,271.0 391.3,272.4 395.3,273.2 399.0,274.6 403.0,276.0 406.8,276.7 410.7,277.9 414.6,279.5 418.5,280.8 422.3,282.0 426.2,283.0 430.0,284.2" fill="none" stroke="#555" stroke-width="0.85" stroke-linejoin="round"/>
<polyline points="292.3,220.8 296.2,221.9 300.0,223.1 304.1,224.3 307.9,225.9 311.8,227.0 315.7,228.0 319.5,229.5 323.5,230.9 327.4,232.1 331.4,233.0 335.3,234.4 339.2,235.7 343.0,236.7 346.9,238.0 350.7,239.5 354.7,240.5 358.7,241.6 362.4,243.0 366.3,244.1 370.2,245.1 374.2,246.7 378.2,248.0 382.0,249.1 385.8,250.3 389.9,251.3 393.7,252.9 397.7,254.1 401.5,255.5 405.5,256.3 409.3,258.0 413.2,258.8 417.2,259.9 420.9,261.4 424.9,262.8 428.8,263.8 432.8,265.2 436.6,266.3 440.5,267.3 444.4,268.8" fill="none" stroke="#555" stroke-width="0.85" stroke-linejoin="round"/>
<polyline points="311.5,211.5 315.4,213.0 319.3,213.6 323.0,214.9 327.0,216.2 330.8,217.4 334.8,218.7 338.6,219.8 342.5,221.0 346.3,222.2 350.2,223.0 354.1,224.2 357.9,225.6 361.9,226.6 365.9,228.2 369.6,229.2 373.5,230.7 377.3,231.4 381.2,232.9 385.2,233.8 389.0,235.3 392.9,236.4 396.8,237.4 400.6,238.6 404.5,239.7 408.4,240.9 412.2,242.3 416.2,243.3 420.1,244.5 423.9,245.9 427.9,247.0 431.6,248.2 435.6,249.1 439.5,250.7 443.3,251.7 447.2,252.9 451.0,254.1 454.9,255.4 458.8,256.3" fill="none" stroke="#555" stroke-width="0.85" stroke-linejoin="round"/>
<polyline points="329.6,202.2 333.4,203.4 337.2,204.3 341.2,205.4 345.1,206.4 348.9,208.0 352.7,209.0 356.5,209.9 360.5,211.2 364.3,212.2 368.2,213.4 372.1,214.3 375.8,215.5 379.8,216.5 383.7,217.4 387.5,218.6 391.4,220.1 395.1,220.9 399.0,222.0 402.8,223.2 406.8,224.3 410.5,225.5 414.4,226.2 418.3,227.5 422.2,228.9 426.0,230.0 429.8,231.0 433.6,231.8 437.6,233.1 441.5,234.0 445.3,235.1 449.2,236.0 453.0,237.5 456.8,238.4 460.8,239.9 464.5,240.5 468.4,241.6 472.3,242.9" fill="none" stroke="#555" stroke-width="0.85" stroke-linejoin="round"/>
<polyline points="346.1,191.8 350.0,193.0 353.8,193.9 357.8,194.7 361.7,196.3 365.5,197.2 369.5,198.1 373.4,199.1 377.2,200.2 381.1,201.5 385.0,202.5 388.9,203.3 392.7,204.6 396.5,205.9 400.5,206.6 404.4,207.9 408.4,208.9 412.1,209.8 416.1,210.7 420.0,212.2 423.8,212.9 427.7,214.2 431.5,215.3 435.4,216.4 439.4,217.3 443.2,218.1 447.1,219.7 451.0,220.7 454.8,221.3 458.7,222.7 462.6,223.5 466.6,224.8 470.4,225.7 474.3,226.9 478.2,227.8 482.1,228.8 486.0,230.0" fill="none" stroke="#555" stroke-width="0.85" stroke-linejoin="round"/>
<polyline points="361.3,183.2 365.1,183.9 369.0,185.3 372.9,186.0 376.9,187.3 380.7,188.2 384.6,189.5 388.5,190.5 392.4,191.4 396.2,192.3 400.1,193.4 404.0,194.5 407.9,195.7 411.6,196.2 415.5,197.2 419.5,198.6 423.3,199.4 427.3,200.8 431.1,201.7 435.0,202.6 438.8,203.7 442.8,205.0 446.7,205.9 450.4,206.6 454.5,207.8 458.2,208.7 462.2,209.8 466.1,210.6 470.0,211.5 473.7,212.8 477.6,213.7 481.5,215.2 485.4,216.1 489.3,217.0 493.1,218.0 497.0,219.0" fill="none" stroke="#555" stroke-width="0.85" stroke-linejoin="round"/>
<polyline points="271.5,234.6 292.3,220.8 311.5,211.5 329.6,202.2 346.1,191.8 361.3,183.2" fill="none" stroke="#555" stroke-width="0.85" stroke-linejoin="round"/>
<polyline points="430.0,284.2 444.4,268.8 458.8,256.3 472.3,242.9 486.0,230.0 497.0,219.0" fill="none" stroke="#555" stroke-width="0.85" stroke-linejoin="round"/>
<polyline points="310.3,246.8 329.6,232.6 347.6,222.5 364.6,212.2 380.4,201.2 394.5,192.0" fill="none" stroke="#555" stroke-width="0.85" stroke-linejoin="round"/>
<polyline points="349.2,258.9 366.8,244.3 383.7,233.5 399.5,222.1 414.7,210.5 427.8,200.7" fill="none" stroke="#555" stroke-width="0.85" stroke-linejoin="round"/>
<polyline points="387.2,270.8 403.3,255.8 419.0,244.2 433.8,231.9 448.2,219.7 460.4,209.3" fill="none" stroke="#555" stroke-width="0.85" stroke-linejoin="round"/>
<polyline points="363.6,94.0 361.3,183.2" fill="none" stroke="#1c1c1c" stroke-width="0.95" stroke-linejoin="round"/>
<polygon points="361.3,183.2 361.3,177.0 361.4,179.0 362.5,178.2 364.3,179.2 365.7,180.0 366.9,181.1 367.9,180.8 369.5,182.5 371.3,182.0 372.0,181.1 372.7,181.6 374.3,182.4 374.4,180.3 375.5,183.6 376.9,181.8 378.6,181.6 380.6,180.4 381.7,179.2 381.6,179.9 383.6,177.3 383.0,176.5 385.0,175.9 384.8,175.8 386.0,175.3 387.6,173.8 388.2,173.9 388.5,174.2 388.4,173.0 389.1,171.6 391.2,171.7 391.2,167.3 391.9,167.4 392.1,166.5 392.5,168.7 393.4,166.7 395.0,165.4 394.4,164.1 395.5,162.5 396.9,162.9 396.7,162.1 398.1,162.4 397.4,158.1 399.6,158.3 398.8,161.8 400.2,159.7 402.2,153.6 403.7,157.9 403.1,157.0 406.3,153.3 405.6,157.1 407.0,157.2 408.6,157.6 409.7,154.3 413.1,157.1 411.9,152.4 413.3,155.6 414.6,155.6 415.7,156.7 416.1,159.8 416.4,156.0 417.7,159.0 417.7,158.8 416.8,161.8 417.8,162.0 417.2,163.2 418.3,167.2 418.9,164.7 418.8,168.4 419.8,168.3 420.5,167.8 418.8,173.0 420.6,171.7 420.9,174.6 419.8,173.0 420.5,171.6 420.2,178.1 422.2,175.2 421.2,178.3 421.9,176.3 422.0,183.8 422.8,180.8 422.8,185.7 423.7,184.1 423.4,186.2 423.2,187.6 424.6,187.7 424.6,188.4 424.9,189.3 425.7,192.9 425.8,194.8 426.4,191.1 427.6,194.3 427.3,194.9 427.8,195.7 428.6,197.2 429.6,199.3 431.3,199.1 432.0,199.5 432.5,200.1 434.1,199.7 435.2,201.4 435.9,201.0 436.9,202.2 438.3,202.2 439.0,201.9 440.0,203.3 441.4,201.5 442.3,203.6 443.2,204.0 444.6,204.0 445.9,203.6 446.1,205.0 447.5,205.1 448.5,205.7 449.8,204.6 450.6,205.6 451.1,206.3 452.2,206.4 453.2,206.8 454.6,206.6 455.8,207.1 456.6,207.3 457.7,208.0 458.6,208.6 459.8,207.8 460.3,207.8 461.7,207.3 462.1,208.7 463.5,208.9 464.5,209.7 465.5,210.9 466.6,210.6 467.8,210.8 468.7,212.1 470.0,211.3 470.0,212.1 361.3,183.4" fill="#000" stroke="#1c1c1c" stroke-width="0.9" stroke-linejoin="round"/>
<polyline points="470.0,211.9 471.5,212.3 473.1,212.6 474.6,213.1 476.0,213.4 477.5,214.2 478.9,214.2 480.4,214.8 481.9,214.8 483.5,215.5 485.1,215.8 486.5,216.2 488.1,216.5 489.4,217.3 491.0,217.2 492.4,218.0 494.1,217.9 495.5,218.4 497.0,219.0" fill="none" stroke="#1c1c1c" stroke-width="0.9" stroke-linejoin="round"/>
<polyline points="346.0,99.0 346.1,191.8" fill="none" stroke="#1c1c1c" stroke-width="0.95" stroke-linejoin="round"/>
<polygon points="346.1,191.8 346.1,185.0 346.3,186.1 347.1,187.1 346.8,188.3 347.5,190.0 348.3,190.9 350.5,189.7 351.8,189.8 353.1,190.6 354.4,190.9 355.6,189.9 357.5,192.1 359.2,192.1 360.4,191.3 362.1,190.2 363.5,192.3 364.1,191.9 365.8,191.0 366.6,192.0 368.1,189.0 369.3,188.8 370.3,189.1 371.8,186.9 372.8,187.8 372.9,185.5 374.1,185.3 376.0,185.0 376.2,182.2 377.8,182.2 377.9,182.6 378.5,182.5 379.1,181.6 380.2,179.4 381.0,176.3 380.7,175.5 381.4,177.4 382.1,173.9 382.8,176.0 384.2,175.0 385.3,170.3 384.9,170.0 385.8,172.3 387.7,172.4 387.3,171.0 387.7,167.9 389.6,168.3 389.7,167.5 391.6,165.7 391.7,165.9 392.9,168.2 393.8,164.3 394.5,164.4 396.2,162.1 397.6,160.6 397.3,161.1 397.8,163.8 398.3,164.5 399.7,162.7 399.3,164.9 400.6,166.4 400.8,165.6 402.4,173.2 401.1,172.1 402.9,170.1 401.8,174.5 402.1,174.8 404.2,173.8 403.7,176.0 404.4,179.7 404.5,175.1 404.9,175.8 404.3,179.9 405.3,179.0 406.0,181.2 406.5,181.8 406.8,181.8 405.8,185.3 406.3,186.1 407.1,187.8 407.5,187.4 408.3,187.8 407.8,189.4 407.6,192.2 408.7,190.1 408.4,195.3 409.1,195.7 410.0,195.6 410.5,195.7 411.0,197.8 411.2,199.8 411.4,200.9 411.8,202.0 412.0,202.5 413.6,204.2 413.3,205.7 414.6,205.5 415.7,207.2 417.0,207.3 417.8,208.4 419.1,208.3 420.8,209.0 421.4,210.7 422.1,210.0 423.6,210.5 424.6,210.3 425.8,209.8 426.8,210.9 428.0,212.1 429.0,212.4 429.7,212.5 430.9,214.1 432.0,214.0 432.0,215.5 346.1,192.0" fill="#fff" stroke="#1c1c1c" stroke-width="0.9" stroke-linejoin="round"/>
<polyline points="432.0,215.3 433.4,215.4 434.9,216.3 436.4,216.2 437.8,216.8 439.3,217.0 440.8,217.8 442.2,217.9 443.6,218.2 445.2,218.7 446.6,219.4 448.0,219.5 449.5,220.2 451.0,220.3 452.4,220.7 453.9,221.4 455.3,221.8 456.9,222.1 458.4,222.7 459.7,223.1 461.1,223.4 462.6,223.5 464.1,224.2 465.6,224.2 467.1,225.0 468.5,224.9 469.9,225.5 471.4,226.3 472.9,226.6 474.2,226.7 475.8,227.1 477.2,227.3 478.6,228.0 480.2,228.3 481.6,228.7 483.0,229.3 484.5,229.6 486.0,230.0" fill="none" stroke="#1c1c1c" stroke-width="0.9" stroke-linejoin="round"/>
<polyline points="326.4,105.0 329.6,202.2" fill="none" stroke="#1c1c1c" stroke-width="0.95" stroke-linejoin="round"/>
<polygon points="329.6,202.2 329.6,196.0 329.9,197.2 330.4,198.0 330.8,199.2 331.9,199.6 332.3,200.1 333.6,201.0 334.7,200.3 336.0,201.3 336.9,201.3 338.1,200.8 338.9,201.8 340.3,202.4 341.2,200.9 342.0,202.1 343.1,202.0 344.3,201.6 344.6,203.0 346.1,203.5 347.4,202.7 347.9,204.8 349.4,204.5 349.7,205.0 351.3,205.6 351.9,203.8 353.5,205.4 354.3,206.1 355.5,205.8 355.8,206.2 357.4,205.7 358.7,206.6 359.4,206.6 360.2,208.0 361.1,207.6 362.1,208.8 363.4,206.3 364.1,207.4 365.3,208.8 366.4,206.8 367.8,207.8 369.4,208.9 370.5,205.7 370.9,206.1 372.0,206.1 373.3,204.1 373.3,203.6 373.9,203.9 375.3,202.6 375.4,201.8 376.1,200.5 376.9,200.4 377.3,196.2 379.0,201.3 379.3,196.3 380.1,196.0 380.4,192.6 381.1,191.9 382.4,192.7 382.2,194.4 382.8,194.2 384.6,193.7 385.0,188.2 385.1,189.8 384.6,184.8 386.5,185.9 385.5,182.2 386.8,186.8 388.1,184.4 388.1,184.3 388.6,181.4 389.1,179.9 388.4,177.9 390.5,180.9 390.3,175.9 391.3,177.1 391.6,177.5 391.8,174.7 392.1,173.6 393.0,172.7 394.2,172.8 393.1,172.9 395.6,167.7 395.4,165.6 395.6,165.7 397.0,168.8 396.2,171.6 397.9,170.2 398.0,169.2 398.8,176.0 399.5,171.1 399.0,176.5 399.3,178.1 399.0,180.8 398.5,178.4 400.9,182.6 400.3,180.4 401.3,185.4 400.4,182.3 399.7,187.0 400.6,185.7 400.9,184.7 400.9,192.9 401.2,189.7 401.5,190.4 401.8,193.7 402.6,194.8 401.7,192.2 402.5,199.1 402.3,196.7 403.5,198.1 403.1,198.5 402.8,201.6 403.2,200.6 403.2,202.1 404.1,204.3 404.2,202.3 403.5,206.9 403.8,205.0 405.3,207.6 405.2,206.4 405.3,210.8 405.6,212.4 405.8,214.2 405.8,215.6 405.9,215.5 407.1,215.4 407.1,216.5 408.0,218.1 408.8,217.9 409.4,220.6 409.3,221.8 410.5,220.1 410.4,223.0 411.3,223.4 412.6,224.0 413.3,224.3 414.0,226.0 415.6,225.5 416.4,226.3 418.0,226.8 418.0,227.6 329.6,202.4" fill="#000" stroke="#1c1c1c" stroke-width="0.9" stroke-linejoin="round"/>
<polyline points="418.0,227.4 419.4,228.0 420.8,228.3 422.5,228.8 423.8,229.2 425.4,229.4 426.9,230.0 428.3,230.4 429.7,230.6 431.3,231.1 432.7,231.5 434.1,231.7 435.7,232.6 437.2,232.9 438.5,233.1 439.9,233.8 441.5,234.4 442.9,234.4 444.4,234.7 445.8,235.4 447.3,235.7 448.9,236.1 450.4,236.6 451.7,236.8 453.2,237.7 454.6,238.0 456.1,238.4 457.7,238.9 459.0,238.9 460.7,239.8 462.1,240.0 463.4,240.3 465.0,240.5 466.4,241.0 468.0,241.6 469.3,242.0 470.8,242.4 472.3,242.9" fill="none" stroke="#1c1c1c" stroke-width="0.9" stroke-linejoin="round"/>
<polyline points="306.4,113.0 311.5,211.5" fill="none" stroke="#1c1c1c" stroke-width="0.95" stroke-linejoin="round"/>
<polygon points="311.5,211.0 310.8,198.5 311.5,198.9 311.8,200.8 311.5,201.7 312.2,201.4 313.5,204.7 314.1,205.2 313.8,207.0 315.3,205.9 316.2,207.4 316.1,208.3 317.1,208.7 317.6,209.7 318.9,211.4 319.2,210.9 320.7,211.9 321.2,213.0 322.6,211.6 323.5,213.7 323.9,214.5 325.0,214.4 326.8,214.6 327.5,214.5 329.0,214.9 330.2,215.8 331.4,216.1 332.1,216.4 333.4,215.0 334.4,216.8 336.2,216.9 337.1,215.8 338.6,215.1 339.6,217.0 340.1,214.9 341.7,215.9 342.5,216.3 343.4,216.6 344.9,215.7 345.9,217.2 347.0,215.3 347.0,215.3 348.8,216.6 349.3,216.3 351.0,214.7 351.5,215.9 352.9,215.2 354.4,215.3 354.9,212.9 356.4,214.0 357.1,214.2 357.9,213.4 358.4,214.1 359.9,213.8 360.5,213.6 363.1,213.0 363.7,209.2 365.0,210.2 365.5,209.4 365.4,206.3 366.4,204.9 368.4,203.0 368.4,205.5 368.9,203.1 369.2,202.5 369.1,201.9 369.0,199.6 370.9,201.8 369.8,198.5 370.2,199.1 371.3,196.2 370.9,197.3 371.8,192.5 371.4,192.3 373.0,194.8 372.2,189.4 373.8,186.7 373.7,187.4 373.5,186.6 375.2,186.1 375.5,185.4 376.6,187.8 378.7,187.8 379.8,186.3 380.2,189.2 380.3,190.9 381.6,184.7 380.7,188.5 381.3,189.7 382.4,191.2 383.1,192.8 381.7,194.2 382.7,194.2 383.3,193.4 383.5,198.8 384.0,196.9 384.0,198.4 383.4,199.6 384.1,201.5 384.0,205.9 384.7,201.7 384.1,203.7 385.4,206.2 384.7,208.4 384.8,209.0 385.5,209.7 385.3,211.3 386.4,210.8 386.5,211.7 386.9,213.8 387.6,215.3 387.8,217.5 388.8,220.1 388.8,218.2 388.5,219.6 389.5,220.9 389.7,223.7 390.3,225.0 390.0,227.3 390.1,227.4 390.1,227.0 391.3,229.4 391.6,229.4 392.2,230.6 392.8,230.4 393.5,231.5 394.1,232.1 394.9,234.5 396.2,235.4 397.2,236.4 398.8,236.3 399.9,236.7 400.3,237.7 401.4,237.9 402.6,238.2 403.0,239.7 404.7,239.8 405.5,240.2 406.5,239.9 407.5,240.7 408.7,241.1 409.5,241.5 410.5,241.7 411.4,241.8 413.0,241.3 414.0,242.3 414.0,242.9 311.5,211.7" fill="#fff" stroke="#1c1c1c" stroke-width="0.9" stroke-linejoin="round"/>
<polyline points="414.0,242.7 415.5,243.0 416.9,243.8 418.2,244.1 419.8,244.3 421.2,244.7 422.7,245.3 424.1,245.6 425.6,246.2 427.1,246.8 428.4,247.4 429.9,247.4 431.3,248.1 432.8,248.5 434.2,249.0 435.6,249.5 437.1,249.6 438.6,250.2 440.0,250.6 441.6,251.2 442.8,251.8 444.2,251.6 445.9,252.2 447.1,252.6 448.7,253.4 450.0,253.5 451.5,253.8 453.0,254.5 454.6,255.1 456.0,255.5 457.4,256.0 458.8,256.3" fill="none" stroke="#1c1c1c" stroke-width="0.9" stroke-linejoin="round"/>
<polyline points="284.5,121.0 292.3,220.8" fill="none" stroke="#1c1c1c" stroke-width="0.95" stroke-linejoin="round"/>
<polygon points="292.3,220.8 294.6,205.0 296.0,181.5 297.0,164.6 297.2,163.2 296.8,162.9 297.1,161.8 297.7,158.7 298.0,158.6 297.3,156.1 298.1,155.9 299.4,156.3 299.4,156.8 299.9,159.5 300.5,159.7 299.9,159.5 299.6,159.7 300.7,161.5 300.0,162.9 301.0,163.9 301.5,165.1 301.3,166.7 302.3,168.0 301.9,169.4 302.3,167.7 302.7,170.7 302.8,171.5 302.1,171.5 302.4,174.5 303.1,175.6 303.2,175.1 304.0,179.5 304.2,179.1 304.1,178.6 304.6,179.7 305.3,181.6 305.0,182.0 305.1,182.4 304.9,182.8 305.8,186.3 306.4,185.6 306.1,187.1 306.9,187.4 306.9,189.5 307.7,189.5 307.7,190.0 307.7,192.8 308.1,193.5 308.9,194.9 308.5,194.4 308.9,195.4 309.2,196.3 310.5,199.6 310.2,198.9 310.9,201.0 310.8,200.6 311.5,201.5 312.5,202.0 312.8,203.3 313.6,203.6 313.5,204.3 314.0,205.4 315.1,207.3 315.5,208.7 316.3,208.0 316.7,208.8 317.7,211.1 318.4,210.7 318.7,213.0 319.2,212.2 319.9,214.3 320.2,215.6 321.1,215.5 321.6,216.6 322.4,218.2 323.2,219.7 323.5,219.9 324.1,221.6 325.0,221.2 325.6,222.1 326.0,223.4 326.6,223.0 327.5,225.1 327.9,225.9 328.6,226.6 329.2,227.8 330.5,228.9 330.9,230.3 332.0,231.7 332.7,231.1 333.5,233.3 334.5,233.5 336.3,234.7 337.0,234.8 337.0,235.1 292.3,221.0" fill="#000" stroke="#1c1c1c" stroke-width="0.9" stroke-linejoin="round"/>
<polyline points="337.0,234.9 338.5,235.2 339.9,235.6 341.3,236.3 342.8,236.6 344.2,237.0 345.5,237.4 347.0,238.1 348.5,238.5 350.0,239.1 351.3,239.6 352.7,239.8 354.2,240.4 355.7,240.9 357.0,241.5 358.5,241.5 360.0,242.2 361.4,242.6 362.7,243.0 364.2,243.4 365.7,243.7 367.0,244.2 368.4,244.9 370.0,245.2 371.5,245.8 372.8,246.1 374.3,246.6 375.7,247.0 377.2,247.7 378.5,248.2 379.9,248.4 381.4,248.8 382.8,249.2 384.2,249.6 385.8,250.2 387.2,250.7 388.7,251.4 390.0,251.8 391.5,252.3 392.8,252.6 394.2,252.9 395.7,253.5 397.0,254.0 398.5,254.3 400.0,255.0 401.5,255.0 402.9,255.5 404.3,256.1 405.8,256.6 407.1,256.9 408.7,257.4 410.0,258.0 411.5,258.7 412.8,258.8 414.4,259.3 415.8,259.9 417.1,259.9 418.6,260.5 420.0,261.0 421.4,261.3 422.9,262.2 424.3,262.2 425.8,262.7 427.1,263.4 428.6,264.0 430.1,264.3 431.5,264.4 433.0,265.1 434.4,265.4 435.8,266.1 437.2,266.3 438.8,267.3 440.2,267.5 441.6,268.0 443.0,268.2 444.4,268.8" fill="none" stroke="#1c1c1c" stroke-width="0.9" stroke-linejoin="round"/>
<polyline points="260.5,130.0 271.5,234.6" fill="none" stroke="#1c1c1c" stroke-width="0.95" stroke-linejoin="round"/>
<polygon points="271.5,234.6 271.5,205.0 272.3,160.0 271.5,150.0 272.0,150.2 272.1,150.9 273.2,154.5 273.8,156.2 274.0,157.0 274.2,157.2 274.5,156.9 274.3,159.4 275.5,160.1 275.7,161.9 275.4,161.3 275.5,162.9 275.9,163.8 275.7,164.1 276.2,166.9 276.1,167.5 276.4,169.2 276.8,169.9 276.4,170.5 277.0,168.5 277.3,172.7 277.1,173.6 277.3,172.2 277.5,175.4 277.5,176.2 278.3,176.2 278.2,178.0 278.5,179.4 279.0,180.3 278.8,180.9 278.9,182.1 279.5,184.0 279.4,185.3 279.9,186.9 280.0,187.1 279.8,188.7 280.3,190.5 280.3,189.4 280.5,190.9 281.2,191.9 281.4,192.9 281.4,193.7 281.7,196.5 282.0,196.6 282.4,196.2 282.1,197.6 283.0,198.0 282.8,199.5 283.6,199.6 283.8,202.0 284.1,203.5 284.5,204.0 284.3,204.6 285.2,206.0 285.3,206.4 285.8,207.3 286.2,208.5 286.5,209.0 286.4,209.7 287.4,211.3 287.2,212.4 288.1,213.4 288.1,214.7 289.0,215.8 289.3,216.3 289.6,216.4 290.0,217.5 290.3,219.0 291.0,218.6 291.2,219.8 291.7,221.4 291.8,221.1 292.6,222.4 292.6,224.4 293.4,224.8 293.9,225.2 294.5,226.3 295.0,228.2 295.4,228.9 296.0,230.1 296.7,231.2 296.9,231.4 297.9,232.4 298.5,233.4 298.7,233.5 299.6,234.9 300.6,236.2 301.2,236.6 301.7,237.4 302.7,238.6 303.6,238.8 304.4,239.8 305.1,240.3 306.1,240.8 306.8,241.7 307.7,241.7 308.8,242.5 309.6,243.3 310.6,244.4 311.5,244.5 312.7,244.5 313.5,246.0 314.5,246.1 315.5,246.5 316.5,247.1 317.7,247.4 318.6,247.8 319.3,248.1 320.2,248.7 321.2,249.5 322.1,249.8 323.4,250.1 324.4,250.3 325.5,250.8 326.6,251.1 327.6,252.0 328.8,252.0 329.7,252.3 331.0,252.7 332.0,253.4 332.9,253.2 334.2,253.7 335.2,253.8 336.2,254.3 337.4,254.7 338.9,255.0 340.0,255.6 340.0,256.2 271.5,234.8" fill="#fff" stroke="#1c1c1c" stroke-width="0.9" stroke-linejoin="round"/>
<polyline points="340.0,256.0 341.4,256.6 342.8,256.7 344.4,257.2 345.8,257.9 347.2,258.2 348.6,258.9 350.1,259.3 351.7,259.4 353.0,260.0 354.6,260.7 355.9,261.0 357.3,261.5 358.8,261.7 360.3,262.4 361.7,262.9 363.2,263.4 364.6,264.0 366.1,264.0 367.5,264.7 368.9,265.4 370.4,265.5 371.8,266.0 373.5,266.3 374.8,267.0 376.3,267.2 377.7,267.9 379.1,268.0 380.7,269.0 382.2,269.4 383.5,269.5 385.0,270.2 386.5,270.6 387.8,270.9 389.3,271.2 390.8,271.7 392.3,272.7 393.6,273.1 395.2,273.0 396.6,273.7 398.0,273.9 399.5,274.4 401.0,275.1 402.4,275.8 404.0,276.0 405.4,276.4 406.8,277.1 408.2,277.5 409.6,277.6 411.1,278.1 412.6,278.6 414.0,279.4 415.5,279.9 417.0,280.2 418.4,280.7 419.9,281.1 421.3,281.5 422.7,282.2 424.2,282.2 425.6,282.7 427.1,283.4 428.4,283.6 430.0,284.2" fill="none" stroke="#1c1c1c" stroke-width="0.9" stroke-linejoin="round"/>
<text x="18.5" y="31.7" font-size="10.8" font-weight="bold" font-style="normal" text-anchor="start" fill="#111" transform="rotate(35 18.5 31.7)" letter-spacing="0" stroke="#111" stroke-width="0.25">CTRL</text>
<text x="51" y="21" font-size="10.8" font-weight="bold" font-style="normal" text-anchor="start" fill="#111" transform="rotate(35 51 21)" letter-spacing="0" stroke="#111" stroke-width="0.25">JAM-C</text>
<text x="89" y="22" font-size="11.0" font-weight="bold" font-style="normal" text-anchor="start" fill="#111" transform="rotate(34.5 89 22)" letter-spacing="0.2" stroke="#111" stroke-width="0.25">PECAM-1</text>
<text x="166" y="27" font-size="14.2" font-weight="bold" font-style="normal" text-anchor="start" fill="#111" transform="rotate(31 166 27)" letter-spacing="0" stroke="#111" stroke-width="0.25">- TNFα</text>
<text x="258.5" y="94" font-size="10.8" font-weight="bold" font-style="normal" text-anchor="start" fill="#111" transform="rotate(35 258.5 94)" letter-spacing="0" stroke="#111" stroke-width="0.25">CTRL</text>
<text x="293.5" y="84" font-size="11.2" font-weight="bold" font-style="normal" text-anchor="start" fill="#111" transform="rotate(35 293.5 84)" letter-spacing="0.2" stroke="#111" stroke-width="0.25">ICAM-1</text>
<text x="325" y="65.5" font-size="11.2" font-weight="bold" font-style="normal" text-anchor="start" fill="#111" transform="rotate(36 325 65.5)" letter-spacing="0.2" stroke="#111" stroke-width="0.25">E-Selectin</text>
<text x="392" y="55" font-size="14.7" font-weight="bold" font-style="normal" text-anchor="start" fill="#111" transform="rotate(31 392 55)" letter-spacing="0" stroke="#111" stroke-width="0.25">+ TNFα</text>
<text x="510.5" y="222.5" font-size="10.3" text-anchor="middle" fill="#111" transform="rotate(30 510.5 222.5)" dy="3.6" stroke="#111" stroke-width="0.45">NN</text>
<text x="497.5" y="234" font-size="10.3" text-anchor="middle" fill="#111" transform="rotate(30 497.5 234)" dy="3.6" stroke="#111" stroke-width="0.45">SS</text>
<text x="483" y="247.5" font-size="10.3" text-anchor="middle" fill="#111" transform="rotate(30 483 247.5)" dy="3.6" stroke="#111" stroke-width="0.45">NN</text>
<text x="469" y="259.8" font-size="10.3" text-anchor="middle" fill="#111" transform="rotate(30 469 259.8)" dy="3.6" stroke="#111" stroke-width="0.45">SS</text>
<text x="456" y="273.5" font-size="10.3" text-anchor="middle" fill="#111" transform="rotate(30 456 273.5)" dy="3.6" stroke="#111" stroke-width="0.45">NN</text>
<text x="439.5" y="287" font-size="10.3" text-anchor="middle" fill="#111" transform="rotate(30 439.5 287)" dy="3.6" stroke="#111" stroke-width="0.45">SS</text>
</svg>
</body></html>
